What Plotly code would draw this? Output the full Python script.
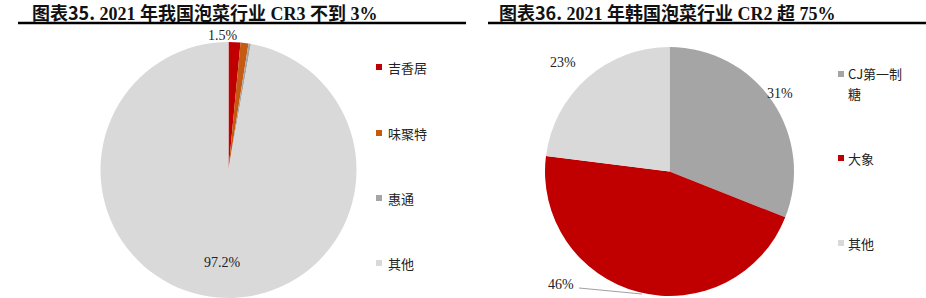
import plotly.graph_objects as go

W, H = 926, 298

# ---------- data ----------
left_labels = ["吉香居", "味聚特", "惠通", "其他"]
left_values = [1.5, 1.0, 0.3, 97.2]
left_colors = ["#C00000", "#C55A11", "#A5A5A5", "#D9D9D9"]

right_labels = ["CJ第一制糖", "大象", "其他"]
right_legend_lines = [["CJ第一制", "糖"], ["大象"], ["其他"]]
right_values = [31, 46, 23]
right_colors = ["#A5A5A5", "#C00000", "#D9D9D9"]

left_title = "2021 年我国泡菜行业 CR3 不到 3%"
right_title = "2021 年韩国泡菜行业 CR2 超 75%"


def px(x):
    return x / W


def py(y):
    return 1 - y / H


fig = go.Figure()

fig.add_trace(go.Pie(
    labels=left_labels, values=left_values, sort=False, direction="clockwise",
    rotation=0, marker=dict(colors=left_colors, line=dict(width=0)),
    textinfo="none", hoverinfo="label+percent", showlegend=False,
    domain=dict(x=[px(100), px(357)], y=[0, py(42)]),
))
fig.add_trace(go.Pie(
    labels=right_labels, values=right_values, sort=False, direction="clockwise",
    rotation=0, marker=dict(colors=right_colors, line=dict(width=0)),
    textinfo="none", hoverinfo="label+percent", showlegend=False,
    domain=dict(x=[px(545), px(794)], y=[py(296), py(47)]),
))

ann = []
shapes = []

LAB_FONT = dict(family="Liberation Serif, Noto Sans CJK SC", size=14, color="#222222")
LEG_FONT = dict(family="Noto Sans CJK SC", size=13, color="#222222")


def fmt(v):
    return f"{v:g}%"


# value labels
ann.append(dict(x=px(206), y=py(35), text=fmt(left_values[0]), font=LAB_FONT))
ann.append(dict(x=px(202), y=py(262), text=fmt(left_values[3]), font=LAB_FONT))
ann.append(dict(x=px(795), y=py(93), text=fmt(right_values[0]), font=LAB_FONT))
ann.append(dict(x=px(561), y=py(284), text=fmt(right_values[1]), font=LAB_FONT))
ann.append(dict(x=px(563), y=py(63), text=fmt(right_values[2]), font=LAB_FONT))
# leader line for 46%
shapes.append(dict(type="line", xref="paper", yref="paper",
                   x0=px(579), y0=py(288), x1=px(642), y1=py(294),
                   line=dict(color="#A0A0A0", width=1)))

# manual legends
left_leg_y = [67, 133, 198, 263]
for lab, col, yy in zip(left_labels, left_colors, left_leg_y):
    shapes.append(dict(type="rect", xref="paper", yref="paper",
                       x0=px(376), x1=px(382), y0=py(yy - 3), y1=py(yy + 3),
                       fillcolor=col, line=dict(width=0)))
    ann.append(dict(x=px(386), y=py(yy), text=lab, font=LEG_FONT, xanchor="left"))

right_leg_y = [74, 158, 243]
for lines, col, yy in zip(right_legend_lines, right_colors, right_leg_y):
    shapes.append(dict(type="rect", xref="paper", yref="paper",
                       x0=px(838), x1=px(844), y0=py(yy - 3), y1=py(yy + 3),
                       fillcolor=col, line=dict(width=0)))
    for i, ln in enumerate(lines):
        ann.append(dict(x=px(846), y=py(yy + 19 * i), text=ln, font=LEG_FONT,
                        xanchor="left", height=17))

# titles
def title_text(num, rest):
    return (f'<span style="font-family:Noto Sans CJK SC">图表{num}.</span>'
            f' {rest}')


TITLE_FONT = dict(family="Liberation Serif, Noto Sans CJK SC", size=18, color="#111111")
ann.append(dict(x=px(30), y=py(12), text="<b>" + title_text(35, left_title) + "</b>",
                font=TITLE_FONT, xanchor="left", height=22))
ann.append(dict(x=px(497), y=py(12), text="<b>" + title_text(36, right_title) + "</b>",
                font=TITLE_FONT, xanchor="left", height=22))
shapes.append(dict(type="line", xref="paper", yref="paper",
                   x0=px(18), x1=px(466), y0=py(23), y1=py(23),
                   line=dict(color="#000000", width=2.5)))
shapes.append(dict(type="line", xref="paper", yref="paper",
                   x0=px(488), x1=px(926), y0=py(23), y1=py(23),
                   line=dict(color="#000000", width=2.5)))

for a in ann:
    a.setdefault("xref", "paper")
    a.setdefault("yref", "paper")
    a.setdefault("showarrow", False)
    a.setdefault("yanchor", "middle")

fig.update_layout(
    width=W, height=H, margin=dict(l=0, r=0, t=0, b=0),
    paper_bgcolor="white", plot_bgcolor="white",
    annotations=ann, shapes=shapes, showlegend=False,
)

fig.write_html("out.html")
